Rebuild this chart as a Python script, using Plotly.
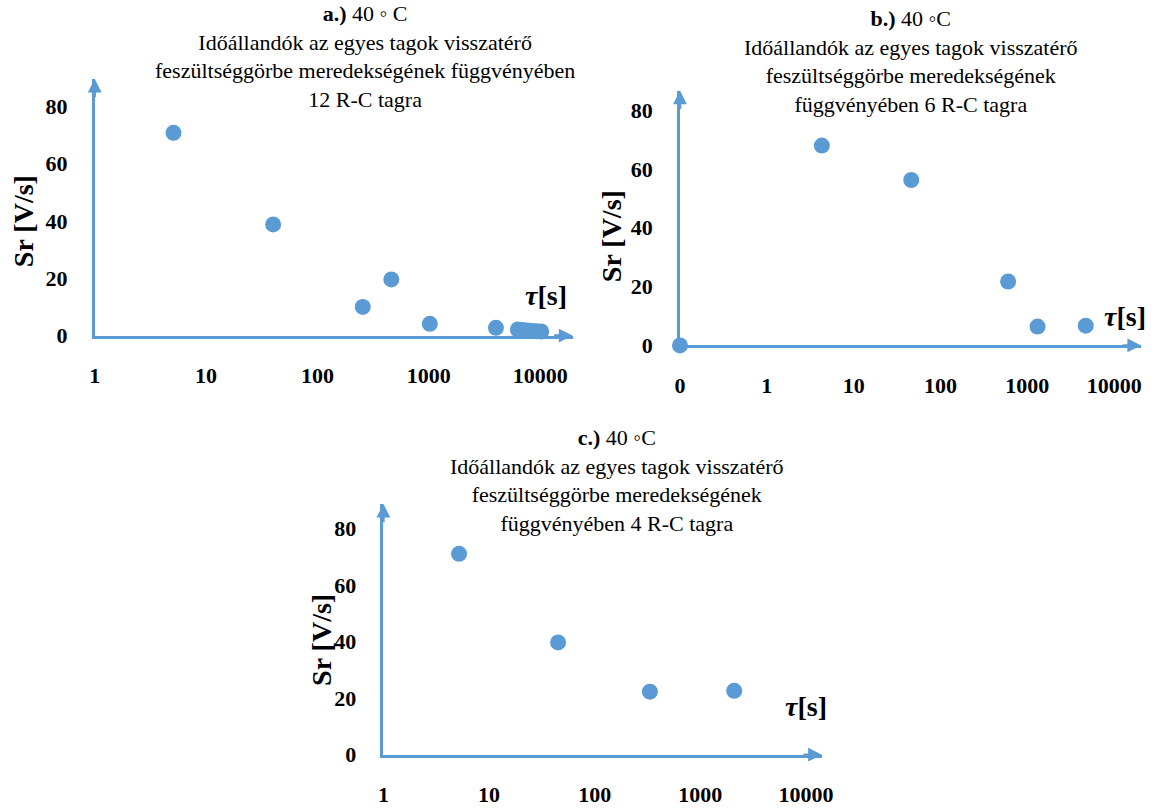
import plotly.graph_objects as go

# ---- data ----
tau_a = [5.1, 40, 255, 460, 1020, 4000, 6300, 7000, 7700, 8500, 9300, 10200]
sr_a = [70.8, 38.8, 10.0, 19.6, 4.1, 2.7, 2.1, 1.9, 1.8, 1.6, 1.5, 1.4]

tau_b = [0, 4.3, 46, 600, 1310, 4700]
sr_b = [0.0, 67.9, 56.2, 21.7, 6.4, 6.7]

tau_c = [5.2, 45, 333, 2090]
sr_c = [71.0, 39.7, 22.3, 22.6]

y_ticks = [0, 20, 40, 60, 80]
x_ticks_ac = [1, 10, 100, 1000, 10000]
x_ticks_b = [0.1, 1, 10, 100, 1000, 10000]
x_ticktext_b = ["0", "1", "10", "100", "1000", "10000"]

titles = [
    "<b>a.)</b> 40 ◦ C<br>Időállandók az egyes tagok visszatérő<br>feszültséggörbe meredekségének függvényében<br>12 R-C tagra",
    "<b>b.)</b> 40 ◦C<br>Időállandók az egyes tagok visszatérő<br>feszültséggörbe meredekségének<br>függvényében 6 R-C tagra",
    "<b>c.)</b> 40 ◦C<br>Időállandók az egyes tagok visszatérő<br>feszültséggörbe meredekségének<br>függvényében 4 R-C tagra",
]

BLUE = "#5B9BD5"
FONT = "Liberation Serif"
W, H = 1161, 812

def px(x):
    return x / W

def py(y):
    return 1 - y / H

# log axis cannot show 0: Excel draws it at the axis minimum (0.1 -> label "0")
tau_b_plot = [t if t > 0 else 0.1 for t in tau_b]

fig = go.Figure()
fig.add_trace(go.Scatter(x=tau_a, y=sr_a, mode="markers", xaxis="x", yaxis="y",
                         marker=dict(size=16, color=BLUE), cliponaxis=False))
fig.add_trace(go.Scatter(x=tau_b_plot, y=sr_b, mode="markers", xaxis="x2", yaxis="y2",
                         marker=dict(size=16, color=BLUE), cliponaxis=False))
fig.add_trace(go.Scatter(x=tau_c, y=sr_c, mode="markers", xaxis="x3", yaxis="y3",
                         marker=dict(size=16, color=BLUE), cliponaxis=False))

tickfont = dict(family=FONT, size=22, color="black")

def xaxis(domain, rng, tickvals, ticktext, anchor):
    return dict(type="log", domain=domain, range=rng, tickvals=tickvals,
                ticktext=[f"<b>{t}</b>" for t in ticktext],
                showline=True, linecolor=BLUE, linewidth=2.5, showgrid=False,
                zeroline=False, ticks="", tickfont=tickfont, anchor=anchor,
                ticklabelstandoff=18)

def yaxis(domain, rng, anchor):
    return dict(domain=domain, range=rng, tickvals=y_ticks,
                ticktext=[f"<b>{t}</b>" for t in y_ticks],
                showline=True, linecolor=BLUE, linewidth=2.5, showgrid=False,
                zeroline=False, ticks="", tickfont=tickfont, anchor=anchor,
                ticklabelstandoff=20)

fig.update_layout(
    xaxis=xaxis([px(90), px(575)], [0, 4.29], x_ticks_ac, [str(v) for v in x_ticks_ac], "y"),
    yaxis=yaxis([py(341), py(80)], [0, 89.7], "x"),
    xaxis2=xaxis([px(684), px(1152)], [-1, 4.31], x_ticks_b, x_ticktext_b, "y2"),
    yaxis2=yaxis([py(351), py(92)], [0, 86.6], "x2"),
    xaxis3=xaxis([px(383), px(828)], [0, 4.15], x_ticks_ac, [str(v) for v in x_ticks_ac], "y3"),
    yaxis3=yaxis([py(767), py(512)], [0, 88.7], "x3"),
)

annotations = []
# arrow heads at axis ends
for ax_id in ["", "2", "3"]:
    xr = "x" + ax_id + " domain"
    yr = "y" + ax_id + " domain"
    annotations.append(dict(xref=xr, yref=yr, x=1, y=0, ax=-20, ay=0, axref="pixel", ayref="pixel",
                            text="", showarrow=True, arrowhead=2, arrowsize=1.1,
                            arrowwidth=2.5, arrowcolor=BLUE, standoff=0))
    annotations.append(dict(xref=xr, yref=yr, x=0, y=1, ax=0, ay=20, axref="pixel", ayref="pixel",
                            text="", showarrow=True, arrowhead=2, arrowsize=1.1,
                            arrowwidth=2.5, arrowcolor=BLUE, standoff=0))

# titles
for (cx, cy), t in zip([(364, 57), (918, 62), (620, 488)], titles):
    annotations.append(dict(xref="paper", yref="paper", x=px(cx), y=py(cy), text=t,
                            showarrow=False, xanchor="center", yanchor="middle",
                            font=dict(family=FONT, size=22, color="black")))

# y axis titles
for cx, cy in [(18, 225), (614, 240), (320, 650)]:
    annotations.append(dict(xref="paper", yref="paper", x=px(cx), y=py(cy),
                            text="<b>Sr [V/s]</b>", textangle=-90, showarrow=False,
                            xanchor="center", yanchor="middle",
                            font=dict(family=FONT, size=28, color="black")))

# x axis titles
for cx, cy in [(548, 300), (1136, 322), (812, 718)]:
    annotations.append(dict(xref="paper", yref="paper", x=px(cx), y=py(cy),
                            text="<b><i>τ</i>[s]</b>", showarrow=False,
                            xanchor="center", yanchor="middle",
                            font=dict(family=FONT, size=28, color="black")))

fig.update_layout(
    annotations=annotations,
    width=W, height=H, margin=dict(l=0, r=0, t=0, b=0),
    paper_bgcolor="white", plot_bgcolor="white", showlegend=False,
)

fig.write_html("out.html")
